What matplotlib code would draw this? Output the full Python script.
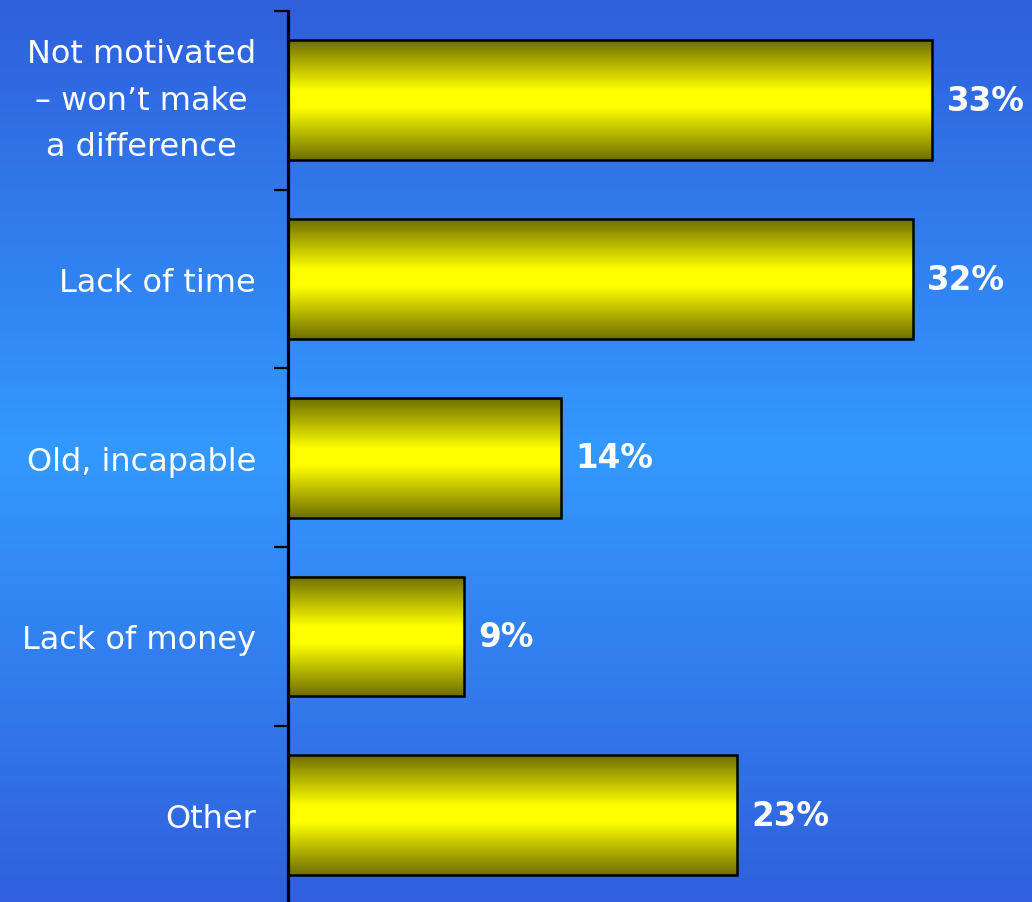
import numpy as np
import matplotlib
matplotlib.use("Agg")
import matplotlib.pyplot as plt
from matplotlib.colors import LinearSegmentedColormap

categories = ["Not motivated\n\u2013 won\u2019t make\na difference", "Lack of time",
              "Old, incapable", "Lack of money", "Other"]
values = [33, 32, 14, 9, 23]
value_labels = ["33%", "32%", "14%", "9%", "23%"]

W, H = 1032, 903
fig = plt.figure(figsize=(W / 100, H / 100), dpi=100)

# background gradient
bg = fig.add_axes([0, 0, 1, 1])
bg_cmap = LinearSegmentedColormap.from_list("bg", ["#2F5FDB", "#3399FF", "#3060DD"])
grad = np.linspace(0, 1, 512).reshape(-1, 1)
bg.imshow(grad, aspect="auto", cmap=bg_cmap, extent=[0, 1, 0, 1], origin="upper")
bg.set_axis_off()

left = 288 / W
bottom_px = 12 + 5 * 178.7
ax = fig.add_axes([left, 1 - bottom_px / H, 742 / W, (bottom_px - 12) / H])
ax.patch.set_alpha(0)

n = len(categories)
y = np.arange(n)
bar_h = 0.67
bars = ax.barh(y, values, height=bar_h, facecolor="none", edgecolor="black",
               linewidth=1.8, zorder=3)
bar_cmap = LinearSegmentedColormap.from_list(
    "bar", [(0, "#6E6E00"), (0.42, "#FFFF00"), (0.56, "#FFFF00"), (1, "#6E6E00")])
for p in bars.patches:
    x0, y0 = p.get_x(), p.get_y()
    w, h = p.get_width(), p.get_height()
    ax.imshow(grad, aspect="auto", cmap=bar_cmap, extent=[x0, x0 + w, y0 + h, y0],
              origin="upper", zorder=2)

ax.set_xlim(0, 38)
ax.set_ylim(n - 0.5, -0.5)

for yi, v, lab in zip(y, values, value_labels):
    ax.text(v + 0.72, yi, lab, ha="left", va="center", color="white",
            fontsize=23.5, fontweight="bold", family="DejaVu Sans")

for s in ["top", "right", "bottom"]:
    ax.spines[s].set_visible(False)
ax.spines["left"].set_linewidth(2.3)
ax.spines["left"].set_color("black")
ax.spines["left"].set_zorder(5)
ax.xaxis.set_visible(False)

ax.set_yticks(y)
ax.set_yticklabels(categories, fontsize=23, color="white", family="DejaVu Sans",
                   multialignment="center", linespacing=1.65)
for lbl in ax.get_yticklabels():
    if "\n" in lbl.get_text():
        lbl.set_va("center")
ax.set_yticks(np.arange(n + 1) - 0.5, minor=True)
ax.tick_params(axis="y", which="major", direction="in", length=7.5, width=1.6,
               color="black", pad=23)
ax.tick_params(axis="y", which="minor", direction="out", length=10, width=1.6,
               color="black")

fig.savefig("out.png", dpi=100)
